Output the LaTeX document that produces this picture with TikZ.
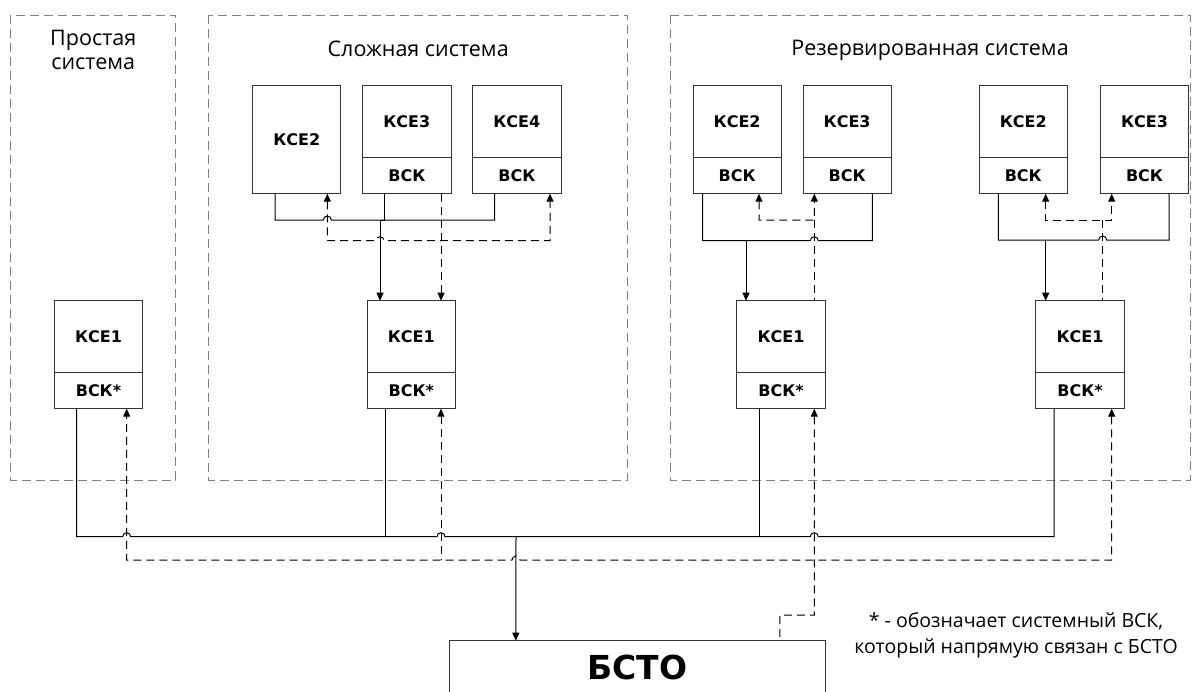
\documentclass[tikz,border=0pt]{standalone}
\usepackage{fontspec}
\setmainfont{Open Sans}
\newfontfamily\boxfont{DejaVu Sans}
\usetikzlibrary{arrows.meta,calc}
\begin{document}
\begin{tikzpicture}[x=1pt,y=-1pt,
  sysbox/.style={draw=black!50, line width=1pt, dash pattern=on 9pt off 5pt},
  part/.style={draw=black!80, line width=0.9pt, minimum width=88.4pt, inner sep=0pt, outer sep=0pt, font=\boxfont\bfseries\fontsize{16}{19}\selectfont},
  upper/.style={part, minimum height=72pt, anchor=north},
  lower/.style={part, minimum height=36pt, anchor=north},
  whole/.style={part, minimum height=108pt, anchor=north},
  title/.style={anchor=base, inner sep=0pt, font=\fontsize{21.5}{26}\selectfont},
  note/.style={anchor=base, inner sep=0pt, font=\fontsize{19.5}{23}\selectfont},
  conn/.style={line width=1pt, black},
  dconn/.style={conn, dash pattern=on 8pt off 5pt},
  tip/.style={-{Triangle[length=8pt,width=7pt]}},
  rtip/.style={{Triangle[length=8pt,width=7pt]}-},
  tips/.style={{Triangle[length=8pt,width=7pt]}-{Triangle[length=8pt,width=7pt]}}
]
\fill[white] (0,0) rectangle (1199,691);
\useasboundingbox (0,0) rectangle (1199,691);

% system frames
\draw[sysbox] (10.7,15) rectangle (175.7,480);
\draw[sysbox] (208.7,15) rectangle (627.7,480);
\draw[sysbox] (670.7,15) rectangle (1190,480);

% titles
\node[title] (tp1) at (93.2,45) {Простая};
\node[title] (tp2) at (93.2,69) {система};
\node[title] (tc) at (418.2,56) {Сложная система};
\node[title] (tr) at (930,55) {Резервированная система};

% simple system
\node[upper] (s1t) at (98.5,300.7) {КСЕ1};
\node[lower] (s1b) at (s1t.south) {ВСК*};

% complex system
\node[whole] (c2) at (296.7,85.7) {КСЕ2};
\node[upper] (c3t) at (406.85,85.7) {КСЕ3};
\node[lower] (c3b) at (c3t.south) {ВСК};
\node[upper] (c4t) at (516.85,85.7) {КСЕ4};
\node[lower] (c4b) at (c4t.south) {ВСК};
\node[upper] (c1t) at (411.3,300.7) {КСЕ1};
\node[lower] (c1b) at (c1t.south) {ВСК*};

% redundant system, group 1
\node[upper] (a2t) at (737.15,85.7) {КСЕ2};
\node[lower] (a2b) at (a2t.south) {ВСК};
\node[upper] (a3t) at (847.15,85.7) {КСЕ3};
\node[lower] (a3b) at (a3t.south) {ВСК};
\node[upper] (a1t) at (781,300.7) {КСЕ1};
\node[lower] (a1b) at (a1t.south) {ВСК*};

% redundant system, group 2
\node[upper] (b2t) at (1023.3,85.7) {КСЕ2};
\node[lower] (b2b) at (b2t.south) {ВСК};
\node[upper] (b3t) at (1144.5,85.7) {КСЕ3};
\node[lower] (b3b) at (b3t.south) {ВСК};
\node[upper] (b1t) at (1080,300.7) {КСЕ1};
\node[lower] (b1b) at (b1t.south) {ВСК*};

% BSTO
\node[inner sep=0pt, minimum width=375pt, minimum height=53.6pt, anchor=north,
      font=\boxfont\bfseries\fontsize{33}{40}\selectfont] (bsto) at (637.5,640.7) {БСТО};
\draw[draw=black!80, line width=0.9pt] (bsto.south west) |- (bsto.north east) -- (bsto.south east);

% note
\node[note] (n1) at (1016,627) {* - обозначает системный ВСК,};
\node[note] (n2) at (1016,653) {который напрямую связан с БСТО};

% ---- complex system wiring
\draw[conn] ([xshift=-21.7pt]c2.south) |- (323.3,220) arc[start angle=180,end angle=0,radius=4pt] -| ([xshift=-22.15pt]c4b.south);
\draw[conn] ([xshift=-22.55pt]c3b.south) |- (380,220);
\draw[conn,tip] (380,220) -- ([xshift=-31.3pt]c1t.north);
\draw[dconn,tips] ([xshift=30.6pt]c2.south) |- (376,240.7) arc[start angle=180,end angle=0,radius=4pt] -| ([xshift=33.15pt]c4b.south);
\draw[dconn,tip] ([xshift=34.15pt]c3b.south) -- ([xshift=29.7pt]c1t.north);

% ---- redundant group 1 wiring
\draw[conn] ([xshift=-34.45pt]a2b.south) |- (810.3,240.7) arc[start angle=180,end angle=0,radius=4pt] -| ([xshift=25.15pt]a3b.south);
\draw[conn,tip] (746,240.7) -- ([xshift=-35pt]a1t.north);
\draw[dconn,tips] ([xshift=21.85pt]a2b.south) -- (759,220) -- (814.3,220) -- ([xshift=-32.85pt]a3b.south);
\draw[dconn] (814.3,220) -- ([xshift=33.3pt]a1t.north);

% ---- redundant group 2 wiring
\draw[conn] ([xshift=-25pt]b2b.south) |- (1098.7,240) arc[start angle=180,end angle=0,radius=4pt] -| ([xshift=24.5pt]b3b.south);
\draw[conn,tip] (1045.7,240) -- ([xshift=-34.3pt]b1t.north);
\draw[dconn,tips] ([xshift=22.4pt]b2b.south) -- (1045.7,220) -- (1111.7,220) -- ([xshift=-32.8pt]b3b.south);
\draw[dconn] (1102.7,220) -- ([xshift=22.7pt]b1t.north);

% ---- common bus (solid)
\draw[conn] ([xshift=-21.8pt]s1b.south) |- (122.7,536.7)
  arc[start angle=180,end angle=0,radius=4pt] -- (437,536.7)
  arc[start angle=180,end angle=0,radius=4pt] -- (810.3,536.7)
  arc[start angle=180,end angle=0,radius=4pt] -- (1054,536.7) -- ([xshift=-26pt]b1b.south);
\draw[conn] ([xshift=-26.3pt]c1b.south) -- (385,536.7);
\draw[conn] ([xshift=-21.7pt]a1b.south) -- (759.3,536.7);
\draw[conn,tip] (516,536.7) -- ([xshift=66pt]bsto.north west);

% ---- common bus (dashed)
\draw[dconn,tips] ([xshift=31.7pt]b1b.south) -- (1111.7,560) -- (520,560)
  arc[start angle=0,end angle=180,radius=4pt] -- (126.7,560) -- ([xshift=28.2pt]s1b.south);
\draw[dconn,rtip] ([xshift=29.7pt]c1b.south) -- (441,560);
\draw[dconn,rtip] ([xshift=33.3pt]a1b.south) -- (814.3,615) -- (780,615) -- ([xshift=330pt]bsto.north west);
\end{tikzpicture}
\end{document}
